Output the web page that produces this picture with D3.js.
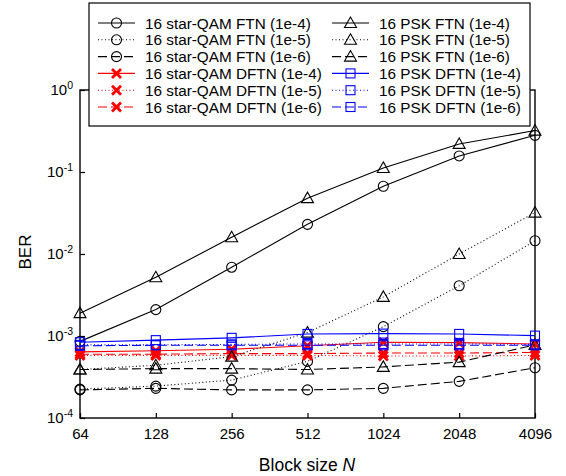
<!DOCTYPE html>
<html>
<head>
<meta charset="utf-8">
<script src="https://cdn.jsdelivr.net/npm/d3@7"></script>
<style>
body { margin: 0; background: #fff; }
svg { font-family: "Liberation Sans", Arial, sans-serif; }
.line { fill: none; stroke-width: 1.1; }
.mark { fill: none; }
</style>
</head>
<body>
<script>
var blockSizes = [64, 128, 256, 512, 1024, 2048, 4096];
var yTicks = [1e-4, 1e-3, 1e-2, 1e-1, 1];
var yTickExp = ["-4", "-3", "-2", "-1", "0"];

// BER
var qamFtn4 = [8.6e-4, 2.1e-3, 6.9e-3, 2.3e-2, 6.7e-2, 0.157, 0.28];
var qamFtn5 = [2.25e-4, 2.45e-4, 2.9e-4, 4.9e-4, 1.3e-3, 4.1e-3, 1.45e-2];
var qamFtn6 = [2.2e-4, 2.3e-4, 2.2e-4, 2.2e-4, 2.3e-4, 2.8e-4, 4.1e-4];
var qamDftn4 = [6.4e-4, 6.6e-4, 6.9e-4, 7.6e-4, 8.4e-4, 8.3e-4, 8.0e-4];
var qamDftn5 = [5.8e-4, 5.8e-4, 5.8e-4, 5.8e-4, 5.7e-4, 5.7e-4, 5.8e-4];
var qamDftn6 = [6.0e-4, 6.0e-4, 6.1e-4, 6.1e-4, 6.2e-4, 6.2e-4, 6.3e-4];
var pskFtn4 = [1.9e-3, 5.2e-3, 1.6e-2, 4.8e-2, 0.112, 0.22, 0.32];
var pskFtn5 = [3.9e-4, 4.4e-4, 5.6e-4, 1.1e-3, 3.0e-3, 1.0e-2, 3.2e-2];
var pskFtn6 = [3.9e-4, 4.0e-4, 4.0e-4, 3.9e-4, 4.2e-4, 4.8e-4, 7.8e-4];
var pskDftn4 = [8.4e-4, 8.9e-4, 9.5e-4, 1.06e-3, 1.07e-3, 1.06e-3, 1.01e-3];
var pskDftn5 = [7.8e-4, 7.8e-4, 7.9e-4, 8.0e-4, 8.0e-4, 8.0e-4, 7.9e-4];
var pskDftn6 = [7.6e-4, 7.7e-4, 7.7e-4, 7.7e-4, 7.7e-4, 7.7e-4, 7.7e-4];

var series = [
  {name: "16 star-QAM FTN (1e-4)", v: qamFtn4, color: "#000", dash: null, mk: "circle"},
  {name: "16 star-QAM FTN (1e-5)", v: qamFtn5, color: "#000", dash: "1,2.5", mk: "circle"},
  {name: "16 star-QAM FTN (1e-6)", v: qamFtn6, color: "#000", dash: "9,4", mk: "circle"},
  {name: "16 star-QAM DFTN (1e-4)", v: qamDftn4, color: "#ff0000", dash: null, mk: "x"},
  {name: "16 star-QAM DFTN (1e-5)", v: qamDftn5, color: "#ff0000", dash: "1,2.5", mk: "x"},
  {name: "16 star-QAM DFTN (1e-6)", v: qamDftn6, color: "#ff0000", dash: "9,4", mk: "x"},
  {name: "16 PSK FTN (1e-4)", v: pskFtn4, color: "#000", dash: null, mk: "tri"},
  {name: "16 PSK FTN (1e-5)", v: pskFtn5, color: "#000", dash: "1,2.5", mk: "tri"},
  {name: "16 PSK FTN (1e-6)", v: pskFtn6, color: "#000", dash: "9,4", mk: "tri"},
  {name: "16 PSK DFTN (1e-4)", v: pskDftn4, color: "#0000ff", dash: null, mk: "sq"},
  {name: "16 PSK DFTN (1e-5)", v: pskDftn5, color: "#0000ff", dash: "1,2.5", mk: "sq"},
  {name: "16 PSK DFTN (1e-6)", v: pskDftn6, color: "#0000ff", dash: "9,4", mk: "sq"}
];

var xScale = d3.scaleLog().base(2).domain([64, 4096]).range([80, 535]);
var yScale = d3.scaleLog().domain([1e-4, 1]).range([418, 90]);

var svg = d3.select("body").append("svg")
    .attr("width", 566)
    .attr("height", 476);

var drawMarker = function(g, type, color){
    if (type == "circle") {
        g.append("circle").attr("r", 5).attr("class", "mark")
            .attr("stroke", color).attr("stroke-width", 1.1);
    } else if (type == "tri") {
        g.append("path").attr("d", "M0,-6L-6,4.5L6,4.5Z").attr("class", "mark")
            .attr("stroke", color).attr("stroke-width", 1.1);
    } else if (type == "sq") {
        g.append("rect").attr("x", -4.5).attr("y", -4.5).attr("width", 9).attr("height", 9)
            .attr("class", "mark").attr("stroke", color).attr("stroke-width", 1.1);
    } else {
        g.append("path").attr("d", "M-4.5,-4.5L4.5,4.5M-4.5,4.5L4.5,-4.5").attr("class", "mark")
            .attr("stroke", color).attr("stroke-width", 2.8);
    }
};

var line = d3.line()
    .x(function(d, i){ return xScale(blockSizes[i]); })
    .y(function(d){ return yScale(d); });

// axes (ticks pointing inward)
var xAxis = d3.axisBottom(xScale).tickValues(blockSizes).tickSize(-5).tickFormat(d3.format("d"));
var yAxis = d3.axisLeft(yScale).tickValues(yTicks).tickSize(-5).tickFormat("");

var gx = svg.append("g").attr("transform", "translate(0,418)").call(xAxis);
gx.selectAll("text").attr("font-size", 15).attr("fill", "#000").attr("dy", "1.2em");
var gy = svg.append("g").attr("transform", "translate(80,0)").call(yAxis);
svg.selectAll(".domain").remove();
svg.selectAll(".tick line").attr("stroke", "#000").attr("stroke-width", 1.2);

yTicks.forEach(function(t, i){
    var txt = svg.append("text")
        .attr("x", 73).attr("y", yScale(t) + 5)
        .attr("text-anchor", "end").attr("font-size", 15);
    txt.append("tspan").text("10");
    txt.append("tspan").attr("font-size", 10.5).attr("dy", -6).text(yTickExp[i]);
});

// frame
svg.append("rect").attr("x", 80).attr("y", 90).attr("width", 455).attr("height", 328)
    .attr("fill", "none").attr("stroke", "#000").attr("stroke-width", 1.4);

// series
series.forEach(function(s){
    svg.append("path").datum(s.v)
        .classed("line", true)
        .attr("stroke", s.color)
        .attr("stroke-dasharray", s.dash)
        .attr("d", line);
    s.v.forEach(function(v, i){
        var g = svg.append("g").attr("transform", "translate(" + xScale(blockSizes[i]) + "," + yScale(v) + ")");
        drawMarker(g, s.mk, s.color);
    });
});

// legend
var legend = svg.append("g");
legend.append("rect").attr("x", 89).attr("y", 3).attr("width", 441).attr("height", 123)
    .attr("fill", "#fff").attr("stroke", "#000").attr("stroke-width", 1.2);
series.forEach(function(s, i){
    var col = Math.floor(i / 6), row = i % 6;
    var x0 = col == 0 ? 98 : 332;
    var y0 = 23 + row * 16.8;
    legend.append("line").attr("x1", x0).attr("x2", x0 + 37).attr("y1", y0).attr("y2", y0)
        .attr("stroke", s.color).attr("stroke-width", 1.1).attr("stroke-dasharray", s.dash);
    var g = legend.append("g").attr("transform", "translate(" + (x0 + 18.5) + "," + y0 + ")");
    drawMarker(g, s.mk, s.color);
    legend.append("text").attr("x", x0 + 47).attr("y", y0 + 5.5)
        .attr("font-size", 15.3).text(s.name);
});

// axis labels
svg.append("text").attr("transform", "translate(31,252) rotate(-90)")
    .attr("text-anchor", "middle").attr("font-size", 17).text("BER");
var xl = svg.append("text").attr("x", 307).attr("y", 471)
    .attr("text-anchor", "middle").attr("font-size", 17.5);
xl.append("tspan").text("Block size ");
xl.append("tspan").attr("font-style", "italic").text("N");
</script>
</body>
</html>
